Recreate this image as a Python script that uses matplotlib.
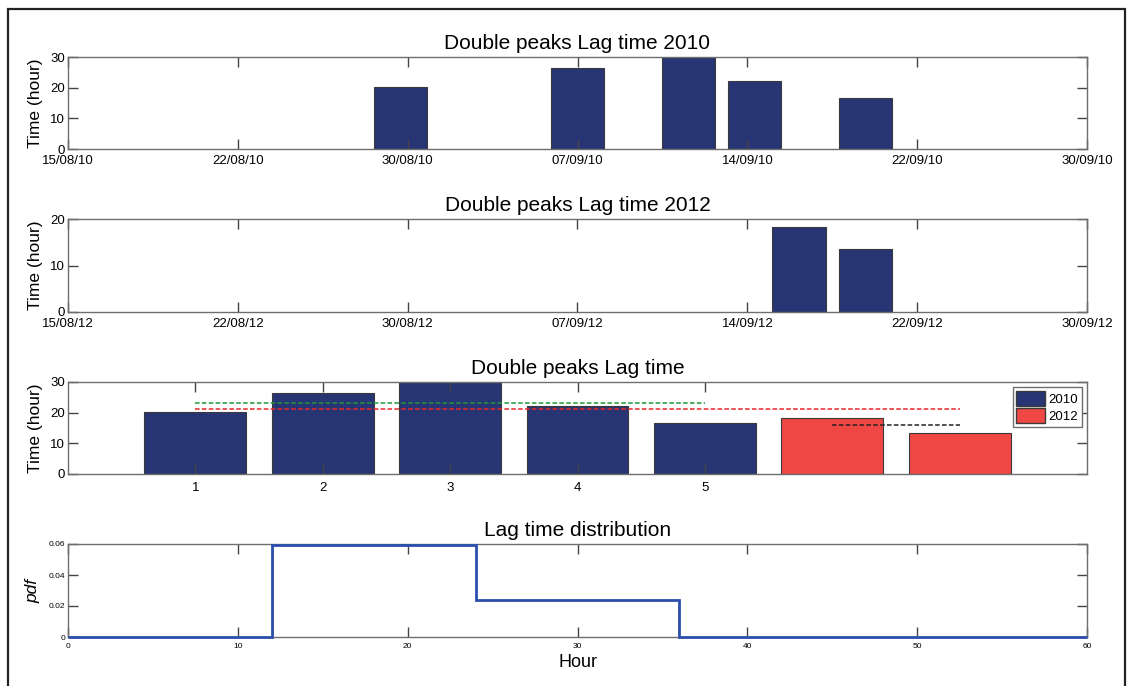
import numpy as np
import pandas as pd
import matplotlib
matplotlib.use('Agg')
import matplotlib.pyplot as plt
import matplotlib.dates as mdates
from matplotlib.patches import Rectangle, Patch

# --- basic style (MATLAB-like look) ---
plt.rcParams['font.family'] = ['Liberation Sans', 'DejaVu Sans']
plt.rcParams['font.size'] = 9.5

# --- data ---
dates_2010 = ['2010-08-30', '2010-09-07', '2010-09-12', '2010-09-15', '2010-09-20']
lag_2010 = [20.3, 26.5, 30.0, 22.2, 16.5]
dates_2012 = ['2012-09-17', '2012-09-20']
lag_2012 = [18.3, 13.5]

range_2010 = ('2010-08-15', '2010-09-30')
range_2012 = ('2012-08-15', '2012-09-30')

hist_edges = [0, 12, 24, 36, 60]
hist_pdf = [0.0, 0.0595, 0.0238, 0.0]

NAVY = '#283574'
RED = '#ee4744'
SPINE = '#6e6e6e'
BLUE_LINE = '#2b4eae'

fig = plt.figure(figsize=(11.27, 6.86), dpi=100)

W, H = 1127.0, 686.0
def px_axes(left, top, right, bottom):
    return fig.add_axes([left / W, 1 - bottom / H, (right - left) / W, (bottom - top) / H])

def style_axes(ax, label_x=-0.025):
    for sp in ax.spines.values():
        sp.set_color(SPINE)
        sp.set_linewidth(1.0)
    ax.tick_params(direction='in', length=7, width=1, color='#444444',
                   top=True, right=True, pad=2, labelsize=9.5)
    ax.tick_params(axis='x', pad=4)
    ax.yaxis.set_label_coords(label_x, 0.5)

def date_panel(ax, dates, values, day_range, ymax, title):
    d = mdates.date2num(pd.to_datetime(dates))
    ax.bar(d, values, width=2.4, color=NAVY, edgecolor='#3a3a3a', linewidth=0.8)
    lo, hi = mdates.date2num(pd.to_datetime(list(day_range)))
    ax.set_xlim(lo, hi)
    ax.set_xticks(np.linspace(lo, hi, 7))
    ax.xaxis.set_major_formatter(mdates.DateFormatter('%d/%m/%y'))
    ax.set_ylim(0, ymax)
    ax.set_yticks(np.arange(0, ymax + 1, 10))
    ax.set_ylabel('Time (hour)', fontsize=12.5)
    ax.set_title(title, fontsize=15, pad=6)
    style_axes(ax)

# --- panel 1: 2010 ---
ax1 = px_axes(68, 57, 1087, 149)
date_panel(ax1, dates_2010, lag_2010, range_2010, 30, 'Double peaks Lag time 2010')

# --- panel 2: 2012 ---
ax2 = px_axes(68, 219, 1087, 312)
date_panel(ax2, dates_2012, lag_2012, range_2012, 20, 'Double peaks Lag time 2012')

# --- panel 3: combined ---
ax3 = px_axes(68, 382, 1087, 474)
n10, n12 = len(lag_2010), len(lag_2012)
x10 = np.arange(1, n10 + 1)
x12 = np.arange(n10 + 1, n10 + n12 + 1)
ax3.bar(x10, lag_2010, width=0.8, color=NAVY, edgecolor='#3a3a3a', linewidth=0.8)
ax3.bar(x12, lag_2012, width=0.8, color=RED, edgecolor='#3a3a3a', linewidth=0.8)
mean_2010 = np.mean(lag_2010)
mean_all = np.mean(lag_2010 + lag_2012)
mean_2012 = np.mean(lag_2012)
ax3.plot([x10[0], x10[-1]], [mean_2010, mean_2010], '--', color='#1a9a3a', lw=1.1, dashes=(3, 1.5))
ax3.plot([x10[0], x12[-1]], [mean_all, mean_all], '--', color='#e8262a', lw=1.1, dashes=(3, 1.5))
ax3.plot([x12[0], x12[-1]], [mean_2012, mean_2012], '--', color='#222222', lw=1.1, dashes=(3, 1.5))
ax3.set_xlim(0, n10 + n12 + 1)
ax3.set_xticks(x10)
ax3.set_ylim(0, 30)
ax3.set_yticks([0, 10, 20, 30])
ax3.set_ylabel('Time (hour)', fontsize=12.5)
ax3.set_title('Double peaks Lag time', fontsize=15, pad=6)
style_axes(ax3)
ax3.tick_params(axis='x', pad=6)
handles = [Patch(facecolor=NAVY, edgecolor='#3a3a3a', label='2010'),
           Patch(facecolor=RED, edgecolor='#3a3a3a', label='2012')]
leg = ax3.legend(handles=handles, loc='upper right', fontsize=9.5, fancybox=False,
                 framealpha=1, edgecolor=SPINE, handlelength=2.2, handleheight=1.3,
                 handletextpad=0.2, borderpad=0.3, labelspacing=0.2, borderaxespad=0.4)
leg.get_frame().set_linewidth(1.0)

# --- panel 4: distribution ---
ax4 = px_axes(68, 544, 1087, 637)
ax4.stairs(hist_pdf, hist_edges, baseline=None, color=BLUE_LINE, lw=2.0, clip_on=False, zorder=3)
ax4.set_xlim(0, 60)
ax4.set_ylim(0, 0.06)
ax4.set_xticks(np.arange(0, 61, 10))
ax4.set_yticks([0, 0.02, 0.04, 0.06])
ax4.set_yticklabels(['0', '0.02', '0.04', '0.06'])
ax4.set_ylabel('pdf', fontsize=12.5, style='italic')
ax4.set_title('Lag time distribution', fontsize=15, pad=6)
style_axes(ax4, label_x=-0.027)
ax4.tick_params(labelsize=6)
ax4.tick_params(axis='x', pad=4)
ax4.set_xlabel('Hour', fontsize=13, labelpad=3)

# outer frame around the whole figure
fig.add_artist(Rectangle((8 / W, -0.05), (1125 - 8) / W, 1.05 - 9 / H,
                         transform=fig.transFigure, fill=False,
                         edgecolor='#222222', linewidth=1.6))

fig.savefig('out.png', dpi=100)
